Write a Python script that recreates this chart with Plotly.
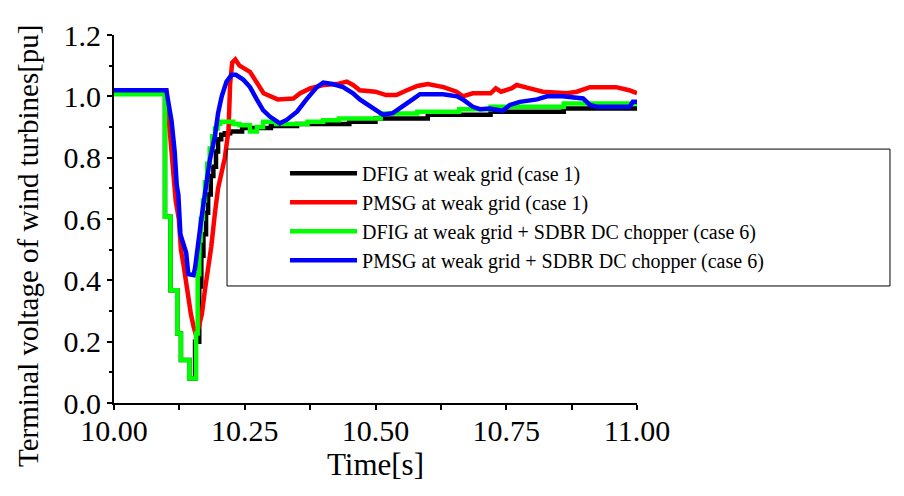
import plotly.graph_objects as go

# ---------------- data ----------------
t_dfig1 = [10.0, 10.0975, 10.108, 10.121, 10.128, 10.144, 10.155, 10.163, 10.167, 10.171, 10.176,
           10.180, 10.185, 10.190, 10.195, 10.199, 10.205, 10.212, 10.222, 10.245, 10.30, 10.35,
           10.45, 10.50, 10.60, 10.72, 10.86, 11.0]
v_dfig1 = [1.02, 0.607, 0.368, 0.227, 0.14, 0.08, 0.20, 0.38, 0.48, 0.55, 0.62,
           0.68, 0.74, 0.77, 0.82, 0.86, 0.875, 0.88, 0.885, 0.897, 0.903, 0.91,
           0.917, 0.928, 0.94, 0.95, 0.96, 0.965]

t_pmsg1 = [10.0, 10.10, 10.105, 10.108, 10.113, 10.118, 10.124, 10.128, 10.133, 10.137, 10.142,
           10.147, 10.152, 10.157, 10.161, 10.168, 10.174, 10.180, 10.186, 10.193, 10.199, 10.212,
           10.219, 10.222, 10.226, 10.232, 10.24, 10.26, 10.274, 10.286, 10.313, 10.343, 10.356,
           10.375, 10.40, 10.426, 10.445, 10.457, 10.47, 10.50, 10.52, 10.54, 10.56, 10.58,
           10.60, 10.63, 10.655, 10.667, 10.686, 10.72, 10.73, 10.74, 10.76, 10.77, 10.795,
           10.82, 10.866, 10.885, 10.91, 10.935, 10.96, 10.985, 11.0]
v_pmsg1 = [1.02, 1.02, 0.92, 0.85, 0.78, 0.66, 0.60, 0.50, 0.45, 0.40, 0.33,
           0.29, 0.25, 0.22, 0.24, 0.29, 0.37, 0.43, 0.51, 0.62, 0.70, 0.80,
           0.89, 1.04, 1.11, 1.12, 1.10, 1.08, 1.04, 1.01, 0.99, 0.993, 1.01,
           1.026, 1.037, 1.04, 1.048, 1.037, 1.02, 1.015, 1.004, 1.004, 1.02, 1.034,
           1.04, 1.03, 1.015, 1.0, 1.01, 1.01, 1.026, 1.015, 1.026, 1.037, 1.026,
           1.015, 1.01, 1.015, 1.03, 1.03, 1.03, 1.02, 1.01]

t_dfig6 = [10.0, 10.0975, 10.108, 10.121, 10.128, 10.144, 10.157, 10.160, 10.163, 10.166, 10.170,
           10.174, 10.178, 10.183, 10.188, 10.193, 10.198, 10.203, 10.228, 10.24, 10.26, 10.273,
           10.285, 10.31, 10.37, 10.40, 10.43, 10.51, 10.58, 10.66, 10.72, 10.86, 11.0]
v_dfig6 = [1.007, 0.607, 0.368, 0.227, 0.14, 0.08, 0.227, 0.42, 0.53, 0.60, 0.66,
           0.72, 0.78, 0.83, 0.87, 0.895, 0.91, 0.917, 0.91, 0.906, 0.885, 0.90,
           0.917, 0.91, 0.917, 0.922, 0.928, 0.944, 0.95, 0.958, 0.966, 0.977, 0.977]

t_pmsg6 = [10.0, 10.10, 10.11, 10.116, 10.12, 10.123, 10.127, 10.133, 10.138, 10.142, 10.152,
           10.155, 10.161, 10.167, 10.177, 10.183, 10.193, 10.199, 10.206, 10.215, 10.225, 10.233,
           10.247, 10.26, 10.273, 10.285, 10.298, 10.317, 10.33, 10.35, 10.368, 10.388, 10.40,
           10.418, 10.438, 10.457, 10.47, 10.49, 10.514, 10.533, 10.552, 10.571, 10.585, 10.629,
           10.656, 10.667, 10.686, 10.70, 10.718, 10.743, 10.757, 10.776, 10.809, 10.828, 10.858,
           10.897, 10.91, 10.923, 10.986, 10.992, 11.0]
v_pmsg6 = [1.02, 1.02, 0.92, 0.82, 0.71, 0.68, 0.55, 0.52, 0.49, 0.42, 0.417,
           0.44, 0.53, 0.60, 0.72, 0.79, 0.87, 0.945, 1.0, 1.047, 1.07, 1.07,
           1.055, 1.03, 0.99, 0.955, 0.934, 0.912, 0.923, 0.95, 0.99, 1.03, 1.045,
           1.04, 1.03, 1.01, 0.99, 0.966, 0.94, 0.945, 0.966, 0.99, 1.007, 1.007,
           1.0, 0.99, 0.966, 0.958, 0.96, 0.953, 0.972, 0.982, 0.99, 1.0, 1.0,
           0.993, 0.972, 0.966, 0.966, 0.982, 0.982]

names = ["DFIG at weak grid (case 1)",
         "PMSG at weak grid (case 1)",
         "DFIG at weak grid + SDBR DC chopper (case 6)",
         "PMSG at weak grid + SDBR DC chopper (case 6)"]
colors = ["#000000", "#ff0000", "#00ff00", "#0000ff"]
shapes_ = ["hv", "linear", "hv", "linear"]

x_ticks = [10.00, 10.25, 10.50, 10.75, 11.00]
x_tick_text = ["10.00", "10.25", "10.50", "10.75", "11.00"]
y_ticks = [0.0, 0.2, 0.4, 0.6, 0.8, 1.0, 1.2]
y_tick_text = ["0.0", "0.2", "0.4", "0.6", "0.8", "1.0", "1.2"]
x_title = "Time[s]"
y_title = "Terminal voltage of wind turbines[pu]"

FONT = "Liberation Serif, Times New Roman, serif"

fig = go.Figure()
for t, v, n, c, s in zip([t_dfig1, t_pmsg1, t_dfig6, t_pmsg6],
                         [v_dfig1, v_pmsg1, v_dfig6, v_pmsg6],
                         names, colors, shapes_):
    fig.add_trace(go.Scatter(x=t, y=v, mode="lines", name=n,
                             line=dict(color=c, width=4.5, shape=s)))

fig.update_layout(
    width=904, height=496,
    margin=dict(l=114, r=267, t=35, b=93),
    paper_bgcolor="white", plot_bgcolor="white",
    font=dict(family=FONT, color="black"),
    showlegend=True,
    legend=dict(x=0.327, y=0.677, xanchor="left", yanchor="top",
                bgcolor="rgba(0,0,0,0)", borderwidth=0,
                font=dict(family=FONT, size=20, color="black"),
                itemwidth=67, tracegroupgap=0),
    shapes=[dict(type="rect", xref="paper", yref="paper",
                 x0=0.2161, x1=1.4837, y0=0.318, y1=0.690,
                 line=dict(color="black", width=1), layer="above")],
    annotations=[dict(text=y_title, xref="paper", yref="paper",
                      x=-0.1644, y=0.4266, xanchor="center", yanchor="middle",
                      textangle=-90, showarrow=False,
                      font=dict(family=FONT, size=29, color="black"))],
)

fig.update_xaxes(range=[10, 11], tickmode="array", tickvals=x_ticks, ticktext=x_tick_text,
                 ticks="outside", ticklen=5, tickwidth=2, tickcolor="black",
                 minor=dict(dtick=0.125, tick0=10, ticks="outside", ticklen=5, tickwidth=2, tickcolor="black"),
                 showline=True, linecolor="black", linewidth=2, mirror=False,
                 showgrid=False, zeroline=False, ticklabelstandoff=-5,
                 tickfont=dict(family=FONT, size=30),
                 title=dict(text=x_title, font=dict(family=FONT, size=31), standoff=4))
fig.update_yaxes(range=[0, 1.2], tickmode="array", tickvals=y_ticks, ticktext=y_tick_text,
                 ticks="outside", ticklen=5, tickwidth=2, tickcolor="black",
                 minor=dict(dtick=0.1, tick0=0, ticks="outside", ticklen=3, tickwidth=2, tickcolor="black"),
                 showline=True, linecolor="black", linewidth=2, mirror=False,
                 showgrid=False, zeroline=False,
                 tickfont=dict(family=FONT, size=30))

fig.write_html("out.html")
